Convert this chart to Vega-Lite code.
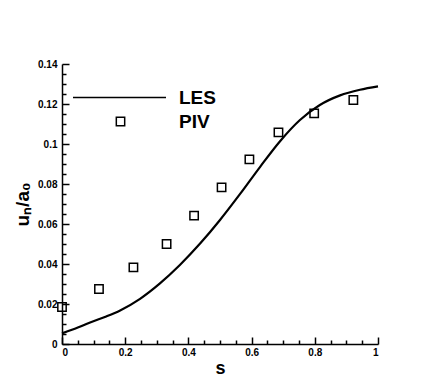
{
  "$schema": "https://vega.github.io/schema/vega-lite/v6.json",
  "width": 316,
  "height": 280,
  "autosize": {"type": "none"},
  "padding": {"left": 62, "top": 64, "right": 46, "bottom": 37},
  "background": "white",
  "config": {
    "view": {"stroke": null},
    "font": "Liberation Sans",
    "axis": {
      "grid": false,
      "domainColor": "black",
      "domainWidth": 1.5,
      "tickColor": "black",
      "tickWidth": 1.5,
      "labelFont": "Liberation Sans",
      "labelFontWeight": "bold",
      "labelColor": "black",
      "labelFontSize": 10,
      "titleFont": "Liberation Sans",
      "titleFontWeight": "bold",
      "titleColor": "black",
      "titleFontSize": 18
    },
    "legend": {
      "labelFont": "Liberation Sans",
      "labelFontWeight": "bold",
      "labelColor": "black",
      "labelFontSize": 19,
      "padding": 0
    }
  },
  "datasets": {
    "les": [
      {"s": 0.0, "v": 0.0053},
      {"s": 0.05, "v": 0.0082},
      {"s": 0.089, "v": 0.0108},
      {"s": 0.14, "v": 0.0138},
      {"s": 0.184, "v": 0.0168},
      {"s": 0.247, "v": 0.0226},
      {"s": 0.31, "v": 0.0303},
      {"s": 0.373, "v": 0.0395},
      {"s": 0.437, "v": 0.0502},
      {"s": 0.5, "v": 0.062},
      {"s": 0.563, "v": 0.0749},
      {"s": 0.627, "v": 0.0886},
      {"s": 0.69, "v": 0.1014},
      {"s": 0.753, "v": 0.112},
      {"s": 0.816, "v": 0.1195},
      {"s": 0.88, "v": 0.1243},
      {"s": 0.943, "v": 0.1271},
      {"s": 1.0, "v": 0.1288}
    ],
    "piv": [
      {"s": 0.0, "v": 0.0185},
      {"s": 0.117, "v": 0.0275},
      {"s": 0.226, "v": 0.0383},
      {"s": 0.331, "v": 0.05},
      {"s": 0.418, "v": 0.0642},
      {"s": 0.505, "v": 0.0783},
      {"s": 0.593, "v": 0.0923},
      {"s": 0.685, "v": 0.1058},
      {"s": 0.798, "v": 0.1153},
      {"s": 0.922, "v": 0.122}
    ]
  },
  "resolve": {"axis": {"x": "independent", "y": "independent"}},
  "layer": [
    {
      "data": {"name": "les"},
      "mark": {"type": "line", "strokeWidth": 2.2, "interpolate": "monotone"},
      "encoding": {
        "x": {
          "field": "s", "type": "quantitative",
          "scale": {"domain": [0, 1], "nice": false, "zero": false},
          "axis": {"orient": "bottom", "values": [0, 0.2, 0.4, 0.6, 0.8, 1], "format": "~g", "tickSize": -7, "labelPadding": 10, "title": "s", "titlePadding": 2}
        },
        "y": {
          "field": "v", "type": "quantitative",
          "scale": {"domain": [0, 0.14], "nice": false, "zero": false},
          "axis": {"orient": "left", "values": [0, 0.02, 0.04, 0.06, 0.08, 0.1, 0.12, 0.14], "format": "~g", "tickSize": -7, "labelPadding": 12, "title": "uₙ/a₀", "titleFontSize": 19, "titlePadding": 5}
        },
        "color": {
          "datum": "LES",
          "scale": {"range": ["black"]},
          "legend": {"title": null, "orient": "none", "legendX": 10, "legendY": -14, "symbolType": "stroke", "symbolSize": 8649, "symbolStrokeWidth": 1.5, "labelOffset": 12}
        }
      }
    },
    {
      "data": {"name": "piv"},
      "mark": {"type": "point", "shape": "square", "size": 70, "filled": false, "color": "black", "strokeWidth": 1.5, "opacity": 1},
      "encoding": {
        "x": {
          "field": "s", "type": "quantitative",
          "axis": {"orient": "bottom", "values": [0.05, 0.1, 0.15, 0.25, 0.3, 0.35, 0.45, 0.5, 0.55, 0.65, 0.7, 0.75, 0.85, 0.9, 0.95], "tickSize": -4, "labels": false, "domain": false, "title": null}
        },
        "y": {
          "field": "v", "type": "quantitative",
          "axis": {"orient": "left", "values": [0.005, 0.01, 0.015, 0.025, 0.03, 0.035, 0.045, 0.05, 0.055, 0.065, 0.07, 0.075, 0.085, 0.09, 0.095, 0.105, 0.11, 0.115, 0.125, 0.13, 0.135], "tickSize": -4, "labels": false, "domain": false, "title": null}
        },
        "shape": {
          "datum": "PIV",
          "scale": {"range": ["square"]},
          "legend": {"title": null, "orient": "none", "legendX": 49, "legendY": 48, "symbolType": "square", "symbolSize": 70, "symbolFillColor": "white", "symbolStrokeColor": "black", "symbolStrokeWidth": 1.5, "symbolOpacity": 1, "labelOffset": 49}
        }
      }
    }
  ]
}
